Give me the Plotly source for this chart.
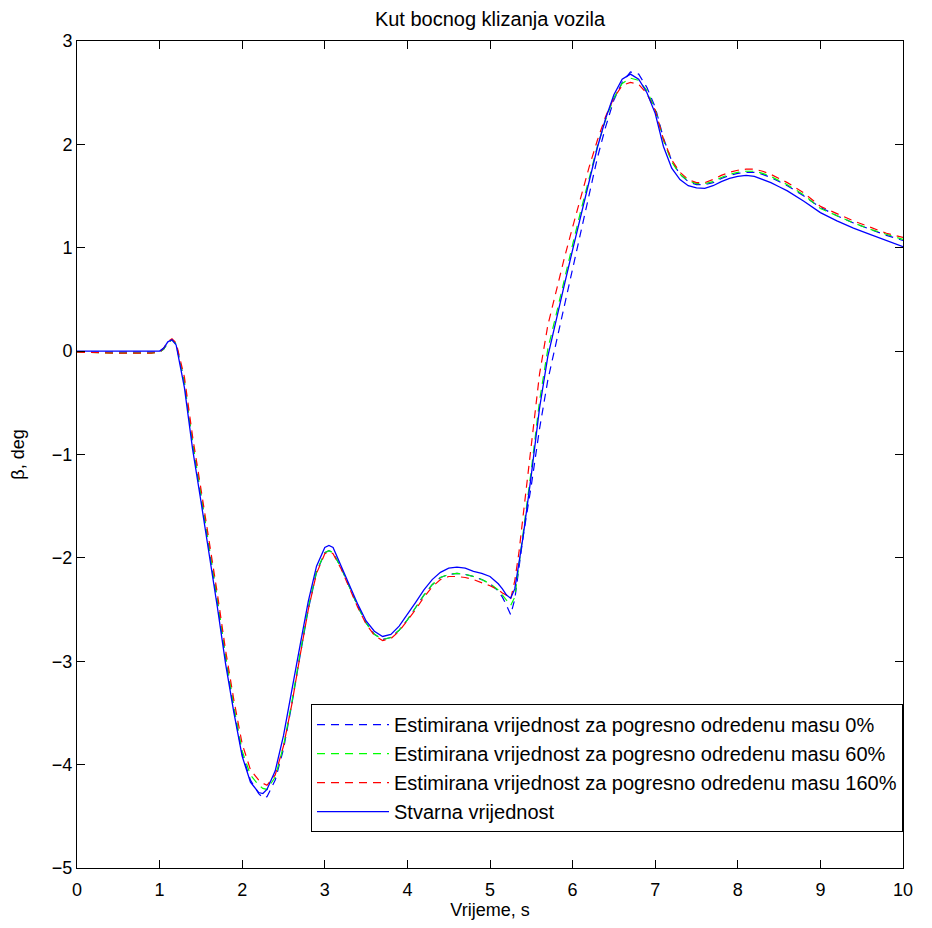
import plotly.graph_objects as go

# time grid (s)
t = [0, 0.5, 0.9, 1.0, 1.05, 1.1, 1.15, 1.2, 1.3, 1.4, 1.5, 1.6, 1.7, 1.8, 1.9,
     2.0, 2.1, 2.2, 2.25, 2.3, 2.4, 2.5, 2.6, 2.7, 2.8, 2.9, 3.0, 3.05, 3.1, 3.2,
     3.3, 3.4, 3.5, 3.6, 3.7, 3.8, 3.9, 4.0, 4.1, 4.2, 4.3, 4.4, 4.5, 4.6, 4.7,
     4.8, 4.9, 5.0, 5.1, 5.15, 5.2, 5.25, 5.3, 5.35, 5.4, 5.5, 5.6, 5.7, 5.8, 5.9,
     6.0, 6.1, 6.2, 6.3, 6.4, 6.5, 6.6, 6.7, 6.8, 6.9, 7.0, 7.1, 7.2, 7.3, 7.4,
     7.5, 7.6, 7.7, 7.8, 7.9, 8.0, 8.1, 8.2, 8.3, 8.4, 8.5, 8.6, 8.8, 9.0, 9.2,
     9.4, 9.6, 9.8, 10.0]

# true value (deg)
beta_true = [0.0, 0.0, 0.0, 0.0, 0.03, 0.09, 0.11, 0.06, -0.35, -0.95, -1.45, -1.95, -2.48, -3.03, -3.5,
             -3.92, -4.17, -4.27, -4.28, -4.24, -4.06, -3.72, -3.3, -2.85, -2.42, -2.08, -1.9, -1.88, -1.9, -2.08,
             -2.27, -2.45, -2.61, -2.71, -2.76, -2.74, -2.66, -2.55, -2.43, -2.31, -2.21, -2.14, -2.1, -2.09, -2.1,
             -2.13, -2.15, -2.18, -2.25, -2.3, -2.36, -2.39, -2.3, -2.05, -1.8, -1.2, -0.55, -0.05, 0.28, 0.64,
             0.98, 1.32, 1.65, 1.97, 2.25, 2.48, 2.63, 2.68, 2.63, 2.5, 2.3, 1.98, 1.77, 1.66, 1.6,
             1.58, 1.575, 1.6, 1.64, 1.67, 1.69, 1.7, 1.69, 1.66, 1.63, 1.59, 1.55, 1.45, 1.34, 1.26,
             1.19, 1.13, 1.07, 1.01]

# estimated, mass error 0 %
beta_est0 = [-0.01, -0.01, -0.01, -0.01, 0.02, 0.08, 0.11, 0.07, -0.3, -0.9, -1.4, -1.9, -2.43, -2.98, -3.47,
             -3.9, -4.15, -4.28, -4.32, -4.31, -4.15, -3.85, -3.42, -2.95, -2.5, -2.14, -1.95, -1.93, -1.95, -2.1,
             -2.28, -2.47, -2.63, -2.74, -2.79, -2.77, -2.7, -2.6, -2.48, -2.36, -2.26, -2.19, -2.16, -2.15, -2.16,
             -2.18, -2.21, -2.25, -2.32, -2.38, -2.46, -2.55, -2.4, -2.1, -1.8, -1.3, -0.75, -0.28, 0.08, 0.45,
             0.82, 1.18, 1.52, 1.87, 2.17, 2.43, 2.6, 2.7, 2.68, 2.55, 2.36, 2.06, 1.84, 1.71, 1.64,
             1.61, 1.61, 1.63, 1.67, 1.7, 1.72, 1.73, 1.73, 1.71, 1.68, 1.64, 1.6, 1.5, 1.39, 1.31,
             1.24, 1.18, 1.12, 1.07]

# estimated, mass error 60 %
beta_est60 = [-0.01, -0.02, -0.02, -0.01, 0.02, 0.08, 0.11, 0.07, -0.3, -0.88, -1.38, -1.88, -2.4, -2.95, -3.44,
              -3.87, -4.1, -4.2, -4.23, -4.24, -4.12, -3.82, -3.4, -2.93, -2.48, -2.13, -1.95, -1.93, -1.95, -2.1,
              -2.28, -2.47, -2.63, -2.74, -2.79, -2.77, -2.7, -2.6, -2.48, -2.36, -2.26, -2.19, -2.16, -2.15, -2.16,
              -2.18, -2.21, -2.25, -2.31, -2.36, -2.42, -2.46, -2.38, -2.08, -1.78, -1.15, -0.48, 0.02, 0.35, 0.7,
              1.03, 1.36, 1.68, 1.98, 2.24, 2.45, 2.59, 2.64, 2.62, 2.52, 2.34, 2.04, 1.83, 1.71, 1.65,
              1.62, 1.62, 1.64, 1.68, 1.71, 1.73, 1.74, 1.74, 1.72, 1.69, 1.65, 1.61, 1.51, 1.38, 1.31,
              1.24, 1.18, 1.13, 1.08]

# estimated, mass error 160 %
beta_est160 = [-0.01, -0.02, -0.02, -0.01, 0.03, 0.09, 0.12, 0.08, -0.25, -0.83, -1.33, -1.83, -2.35, -2.9, -3.38,
               -3.8, -4.05, -4.15, -4.18, -4.2, -4.1, -3.82, -3.42, -2.95, -2.5, -2.15, -1.96, -1.94, -1.96, -2.11,
               -2.29, -2.48, -2.64, -2.75, -2.8, -2.78, -2.71, -2.61, -2.5, -2.38, -2.28, -2.21, -2.18, -2.18, -2.19,
               -2.21, -2.24, -2.27, -2.31, -2.34, -2.36, -2.4, -2.22, -1.95, -1.6, -0.9, -0.22, 0.25, 0.58, 0.9,
               1.2, 1.5, 1.78, 2.04, 2.27, 2.45, 2.57, 2.6, 2.58, 2.49, 2.33, 2.05, 1.85, 1.73, 1.66,
               1.63, 1.63, 1.66, 1.7, 1.73, 1.75, 1.76, 1.76, 1.74, 1.71, 1.67, 1.63, 1.53, 1.4, 1.33,
               1.26, 1.2, 1.14, 1.1]

x_ticks = [0, 1, 2, 3, 4, 5, 6, 7, 8, 9, 10]
y_ticks = [-5, -4, -3, -2, -1, 0, 1, 2, 3]

names = ["Estimirana vrijednost za pogresno odredenu masu 0%",
         "Estimirana vrijednost za pogresno odredenu masu 60%",
         "Estimirana vrijednost za pogresno odredenu masu 160%",
         "Stvarna vrijednost"]

fig = go.Figure()
dash = "8px,6px"
fig.add_trace(go.Scatter(x=t, y=beta_est0, mode="lines", name=names[0],
                         line=dict(color="rgb(0,0,255)", width=1.2, dash=dash)))
fig.add_trace(go.Scatter(x=t, y=beta_est60, mode="lines", name=names[1],
                         line=dict(color="rgb(0,255,0)", width=1.2, dash=dash)))
fig.add_trace(go.Scatter(x=t, y=beta_est160, mode="lines", name=names[2],
                         line=dict(color="rgb(255,0,0)", width=1.2, dash=dash)))
fig.add_trace(go.Scatter(x=t, y=beta_true, mode="lines", name=names[3],
                         line=dict(color="rgb(0,0,255)", width=1.3)))

axis_common = dict(showgrid=False, zeroline=False, showline=True, linecolor="black",
                   linewidth=1, mirror="ticks", ticks="inside", ticklen=8,
                   tickcolor="black", tickfont=dict(size=18, color="black"),
                   automargin=False)

fig.update_layout(
    width=924, height=920,
    plot_bgcolor="white", paper_bgcolor="white",
    font=dict(family="Liberation Sans, Arial, sans-serif", color="black"),
    margin=dict(l=69, r=29, t=33, b=60),
    title=dict(text="Kut bocnog klizanja vozila", x=0.5216, xanchor="center",
               y=0.988, yanchor="middle", font=dict(size=20, color="black")),
    xaxis=dict(range=[0, 10], tickvals=x_ticks, ticklabelstandoff=5,
               title=dict(text="Vrijeme, s", font=dict(size=18), standoff=0), **axis_common),
    yaxis=dict(range=[-5, 3], tickvals=y_ticks,
               title=dict(text="β, deg", font=dict(size=18), standoff=22), **axis_common),
    legend=dict(x=1.0, xanchor="right", y=0.0435, yanchor="bottom",
                bgcolor="white", bordercolor="black", borderwidth=1,
                font=dict(size=20, color="black"), itemwidth=72,
                tracegroupgap=0),
    showlegend=True,
)

fig.write_html("out.html")
